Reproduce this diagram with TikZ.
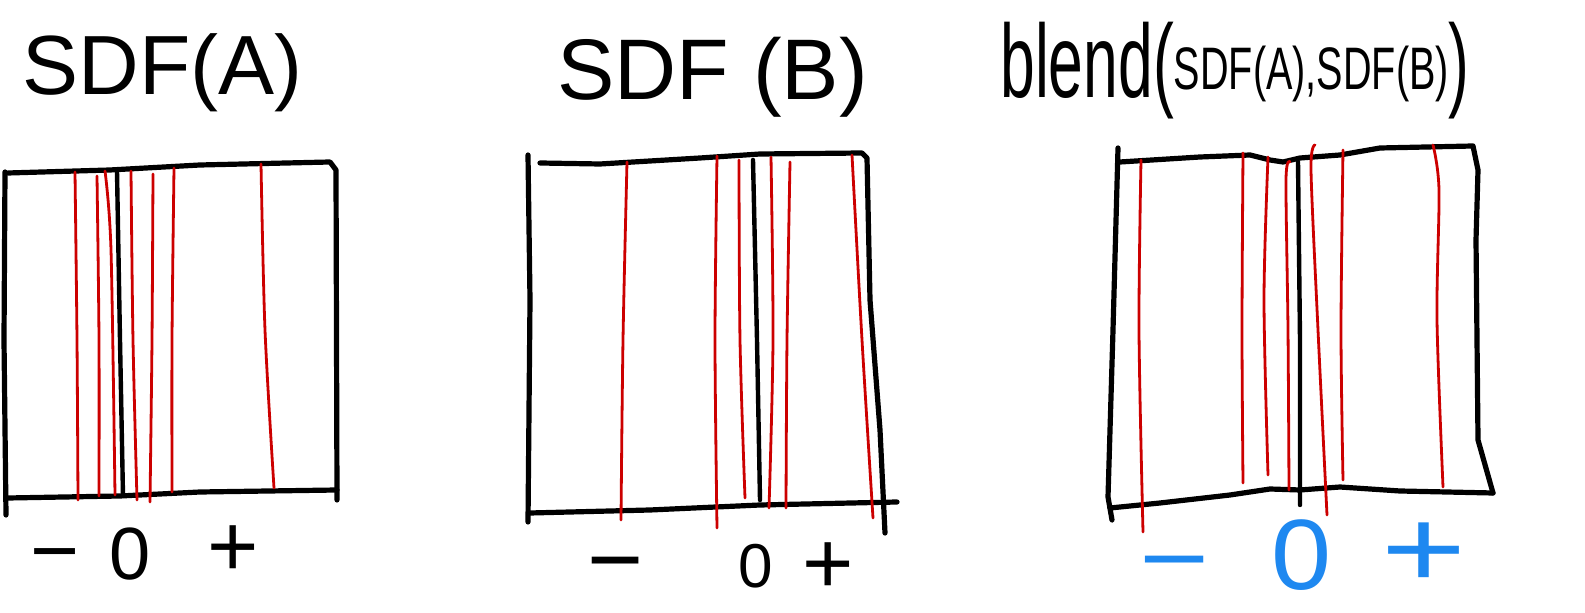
\documentclass[tikz,border=0pt]{standalone}
\usepackage{fontspec}
\usepackage{graphicx}
\setmainfont{Liberation Sans}
\definecolor{redline}{RGB}{204,0,0}
\definecolor{bluelab}{RGB}{30,136,240}
\tikzset{
  boxline/.style={line width=2.6pt, line cap=round, line join=round, black},
  zeroline/.style={line width=2.2pt, line cap=round, black},
  level/.style={line width=1.4pt, line cap=round, redline},
  ttl/.style={inner sep=0pt, anchor=base west},
  lab/.style={inner sep=0pt, anchor=base},
  bluelabel/.style={lab, text=bluelab},
}
\begin{document}
\begin{tikzpicture}[x=0.5pt, y=-0.5pt]
\fill[white] (0,0) rectangle (1585,613);
\useasboundingbox (0,0) rectangle (1585,613);

% ---------- titles ----------
\node[ttl, font=\fontsize{42}{48}\selectfont] (tA) at (22,95) {SDF(A)};
\node[ttl, font=\fontsize{43}{50}\selectfont] (tB) at (557,100) {SDF (B)};
\node[ttl] (tC) at (1000,98) {\fontsize{52}{60}\selectfont\scalebox{0.6}[1]{blend(}\raisebox{4pt}{\fontsize{30}{36}\selectfont\scalebox{0.66}[1]{SDF(A),SDF(B)}}\fontsize{52}{60}\selectfont\scalebox{0.6}[1]{)}};

% ---------- panel 1 ----------
\draw[boxline] (5,172) -- (4,340) -- (6,515);
\draw[boxline] (8,173) -- (110,170) -- (200,165) -- (330,162) -- (336,170) -- (337,500);
\draw[boxline] (8,498) -- (120,496) -- (200,492) -- (337,490);
\draw[level] plot[smooth] coordinates {(75,172) (77,340) (78,500)};
\draw[level] plot[smooth] coordinates {(97,176) (99,340) (99,496)};
\draw[level] plot[smooth] coordinates {(105,171) (111,250) (115,495)};
\draw[level] plot[smooth] coordinates {(131,171) (133,340) (137,500)};
\draw[level] plot[smooth] coordinates {(153,174) (152,340) (150,502)};
\draw[level] plot[smooth] coordinates {(174,168) (172,340) (172,492)};
\draw[level] plot[smooth] coordinates {(261,164) (265,330) (274,488)};
\draw[zeroline] (117,171) -- (120,340) -- (123,496);
\node[lab, font=\fontsize{42}{46}\selectfont] (m1) at (55,580) {−};
\node[lab, font=\fontsize{37}{44}\selectfont] (z1) at (130,580) {0};
\node[lab, font=\fontsize{44}{50}\selectfont] (p1) at (233,577) {+};

% ---------- panel 2 ----------
\draw[boxline] (528,155) -- (530,300) -- (528,522);
\draw[boxline] (540,163) -- (600,164) -- (700,158) -- (760,154) -- (862,153) -- (867,158) -- (870,300) -- (880,430) -- (885,533);
\draw[boxline] (530,513) -- (650,510) -- (760,505) -- (897,502);
\draw[level] plot[smooth] coordinates {(627,162) (623,340) (621,520)};
\draw[level] plot[smooth] coordinates {(717,156) (715,340) (717,528)};
\draw[level] plot[smooth] coordinates {(739,160) (740,340) (745,498)};
\draw[level] plot[smooth] coordinates {(771,157) (773,340) (769,508)};
\draw[level] plot[smooth] coordinates {(790,162) (787,340) (786,508)};
\draw[level] plot[smooth] coordinates {(852,155) (862,340) (873,518)};
\draw[zeroline] (753,160) -- (757,340) -- (760,500);
\node[lab, font=\fontsize{48}{54}\selectfont] (m2) at (616,593) {−};
\node[lab, font=\fontsize{31}{36}\selectfont] (z2) at (756,588) {0};
\node[lab, font=\fontsize{44}{50}\selectfont] (p2) at (828,594) {+};

% ---------- panel 3 ----------
\draw[boxline] (1118,148) -- (1113,330) -- (1108,497) -- (1112,520);
\draw[boxline] (1120,162) -- (1200,157) -- (1250,155) -- (1270,160) -- (1283,162) -- (1300,158) -- (1340,155) -- (1380,148) -- (1473,146) -- (1478,170) -- (1476,240) -- (1478,440) -- (1493,493);
\draw[boxline] (1110,508) -- (1160,503) -- (1230,495) -- (1270,489) -- (1300,490) -- (1340,487) -- (1400,491) -- (1493,493);
\draw[level] plot[smooth] coordinates {(1141,160) (1139,330) (1143,532)};
\draw[level] plot[smooth] coordinates {(1243,153) (1242,330) (1243,483)};
\draw[level] plot[smooth] coordinates {(1268,157) (1264,300) (1268,475)};
\draw[level] plot[smooth] coordinates {(1290,162) (1286,180) (1288,330) (1289,490)};
\draw[level] plot[smooth] coordinates {(1315,145) (1311,170) (1318,330) (1327,515)};
\draw[level] plot[smooth] coordinates {(1343,150) (1341,330) (1343,480)};
\draw[level] plot[smooth] coordinates {(1433,145) (1439,190) (1437,320) (1443,487)};
\draw[zeroline] (1298,162) -- (1300,340) -- (1300,505);
\node[bluelabel, font=\fontsize{48}{54}\selectfont] (m3) at (1175,592) {\scalebox{1.25}[1]{−}};
\node[bluelabel, font=\fontsize{50}{56}\selectfont] (z3) at (1302,590) {\scalebox{1.08}[1]{0}};
\node[bluelabel, font=\fontsize{56}{62}\selectfont] (p3) at (1424,588) {\scalebox{1.3}[1]{+}};
\end{tikzpicture}
\end{document}
